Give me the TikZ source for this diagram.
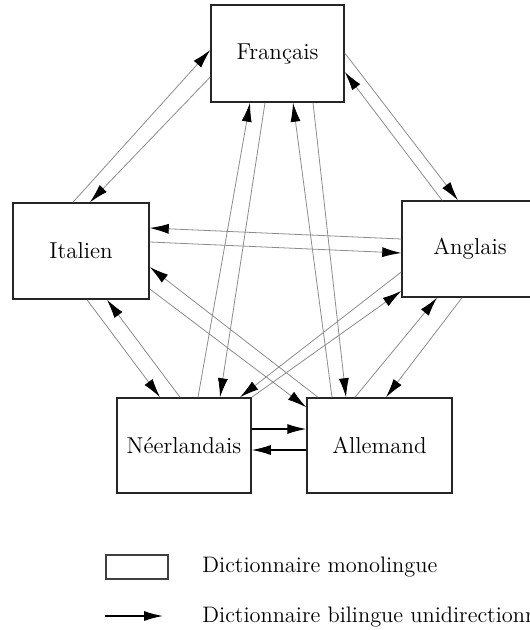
\documentclass[tikz,border=0pt]{standalone}
\usetikzlibrary{arrows.meta}

\tikzset{
  caja/.style={draw=black!85, line width=0.75pt, inner sep=0pt,
    font=\fontsize{11.5}{13}\selectfont},
  flecha/.style={draw=black!45, line width=0.4pt,
    -{Latex[length=9.5pt,width=5pt,color=black]}},
  flechanegra/.style={draw=black, line width=0.6pt,
    -{Latex[length=9.5pt,width=5pt]}},
  leyenda/.style={anchor=west, inner sep=0pt, font=\fontsize{11.2}{13}\selectfont}
}

\begin{document}
\begin{tikzpicture}[x=0.5pt, y=-0.5pt]
% Marco de la figura
\useasboundingbox (0,0) rectangle (529,630);

% Las cajas de los diccionarios monolingues
\node[caja, minimum width=66.5pt, minimum height=48.5pt] (fr) at (277.5,53.5) {Français};
\node[caja, minimum width=68pt, minimum height=48pt] (it) at (81,251) {Italien};
\node[caja, minimum width=68pt, minimum height=48pt] (an) at (470,249) {Anglais};
\node[caja, minimum width=67pt, minimum height=47.5pt] (ne) at (184,445.5) {Néerlandais};
\node[caja, minimum width=72.5pt, minimum height=47.5pt] (al) at (379.5,445.5) {Allemand};

% Français con Italien y Anglais
\draw[flecha] ([shift={(-8,0)}]it.north) -- ([shift={(0,-3.5)}]fr.west);
\draw[flecha] ([shift={(0,23.5)}]fr.west) -- ([shift={(9,0)}]it.north);
\draw[flecha] ([shift={(0,-0.5)}]fr.east) -- ([shift={(-12,0)}]an.north);
\draw[flecha] ([shift={(-28,0)}]an.north) -- ([shift={(0,18.5)}]fr.east);

% Italien con Anglais
\draw[flecha] ([shift={(0,-10)}]an.west) -- ([shift={(0,-23)}]it.east);
\draw[flecha] ([shift={(0,-9)}]it.east) -- ([shift={(0,4)}]an.west);

% Italien con Allemand y Néerlandais
\draw[flecha] ([shift={(-61.5,0)}]al.north) -- ([shift={(0,16)}]it.east);
\draw[flecha] ([shift={(0,38)}]it.east) -- ([shift={(0,10)}]al.north west);
\draw[flecha] ([shift={(6,0)}]it.south) -- ([shift={(-24,0)}]ne.north);
\draw[flecha] ([shift={(-4,0)}]ne.north) -- ([shift={(26,0)}]it.south);

% Français con Néerlandais y Allemand
\draw[flecha] ([shift={(14,0)}]ne.north) -- ([shift={(-27.5,0)}]fr.south);
\draw[flecha] ([shift={(-12.5,0)}]fr.south) -- ([shift={(36,0)}]ne.north);
\draw[flecha] ([shift={(-47.5,0)}]al.north) -- ([shift={(15.5,0)}]fr.south);
\draw[flecha] ([shift={(35.5,0)}]fr.south) -- ([shift={(-33.5,0)}]al.north);

% Anglais con Néerlandais y Allemand
\draw[flecha] ([shift={(0,23)}]an.west) -- ([shift={(56,0)}]ne.north);
\draw[flecha] (ne.north east) -- ([shift={(0,42)}]an.west);
\draw[flecha] ([shift={(-24.5,0)}]al.north) -- ([shift={(-33,0)}]an.south);
\draw[flecha] ([shift={(-8,0)}]an.south) -- ([shift={(6.5,0)}]al.north);

% Néerlandais con Allemand, en negro
\draw[flechanegra] ([shift={(0,-16.5)}]ne.east) -- ([shift={(0,-16.5)}]al.west);
\draw[flechanegra] ([shift={(0,4.5)}]al.west) -- ([shift={(0,4.5)}]ne.east);

% Leyenda
\node[draw=black!75, line width=0.6pt, minimum width=31pt, minimum height=12pt, inner sep=0pt] (lgcaja) at (137,567) {};
\node[leyenda] (lgmono) at (202,567) {Dictionnaire monolingue};
\coordinate (lgA) at (105,616);
\coordinate (lgB) at (163,616);
\draw[flechanegra] (lgA) -- (lgB);
\node[leyenda] (lgbil) at (202,617) {Dictionnaire bilingue unidirectionnel};
\end{tikzpicture}
\end{document}
